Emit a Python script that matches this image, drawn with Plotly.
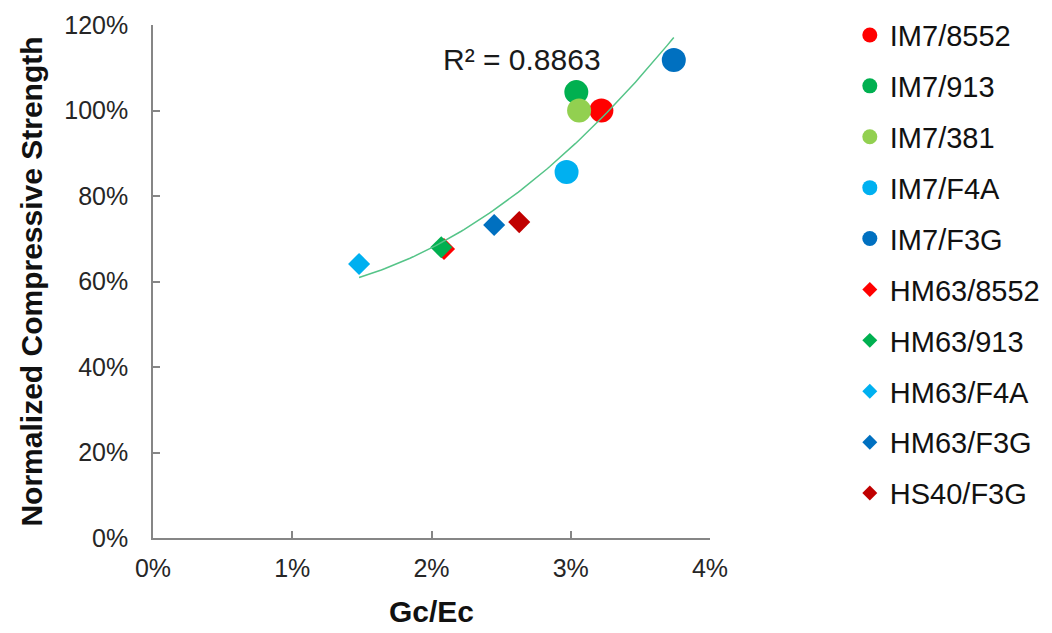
import numpy as np
import plotly.graph_objects as go

# Material systems (legend order) and their measured values
materials = ["IM7/8552", "IM7/913", "IM7/381", "IM7/F4A", "IM7/F3G",
             "HM63/8552", "HM63/913", "HM63/F4A", "HM63/F3G", "HS40/F3G"]
gc_ec = [0.0322, 0.0304, 0.0306, 0.0297, 0.0374,
         0.0209, 0.0207, 0.0148, 0.0245, 0.0263]
norm_strength = [1.00, 1.043, 1.00, 0.856, 1.118,
                 0.676, 0.680, 0.641, 0.732, 0.739]
colors = ["#FF0000", "#00B050", "#92D050", "#00B0F0", "#0070C0",
          "#FF0000", "#00B050", "#00B0F0", "#0070C0", "#C00000"]
symbols = ["circle"] * 5 + ["diamond"] * 5
r_squared_label = "R² = 0.8863"

x_ticks = [0, 0.01, 0.02, 0.03, 0.04]
y_ticks = [0, 0.2, 0.4, 0.6, 0.8, 1.0, 1.2]

FONT = "Liberation Sans, Arial, sans-serif"
AXIS_GRAY = "#868686"

fig = go.Figure()
# Data markers
for name, x, y, c, s in zip(materials, gc_ec, norm_strength, colors, symbols):
    fig.add_trace(go.Scatter(
        x=[x], y=[y], mode="markers", name=name, legendgroup=name,
        showlegend=False,
        marker=dict(symbol=s, color=c, size=24 if s == "circle" else 17,
                    line=dict(width=0)),
    ))

# Second-order polynomial trendline through all points
coef = np.polyfit(gc_ec, norm_strength, 2)
xs = np.linspace(min(gc_ec), max(gc_ec), 100)
fig.add_trace(go.Scatter(
    x=xs, y=np.polyval(coef, xs), mode="lines", showlegend=False,
    line=dict(color="#55C488", width=1.5), hoverinfo="skip",
))

# Legend entries with smaller symbols
for name, c, s in zip(materials, colors, symbols):
    fig.add_trace(go.Scatter(
        x=[None], y=[None], mode="markers", name=name, legendgroup=name,
        marker=dict(symbol=s, color=c, size=15 if s == "circle" else 11.5,
                    line=dict(width=0)),
    ))

fig.add_annotation(x=0.0265, y=1.12, xref="x", yref="y", text=r_squared_label,
                   showarrow=False, font=dict(family=FONT, size=30, color="#1a1a1a"))

fig.update_xaxes(
    range=[0, 0.04], tickvals=x_ticks, tickformat=".0%",
    showline=True, linecolor=AXIS_GRAY, linewidth=1.5, mirror=False,
    ticks="inside", ticklen=7, tickcolor=AXIS_GRAY, tickwidth=1.5,
    showgrid=False, zeroline=False,
    tickfont=dict(family=FONT, size=25, color="#262626"),
    ticklabelstandoff=7,
    title=dict(text="<b>Gc/Ec</b>", font=dict(family=FONT, size=30, color="#111"), standoff=20),
)
fig.update_yaxes(
    range=[0, 1.2], tickvals=y_ticks, tickformat=".0%",
    showline=True, linecolor=AXIS_GRAY, linewidth=1.5,
    ticks="inside", ticklen=7, tickcolor=AXIS_GRAY, tickwidth=1.5,
    showgrid=False, zeroline=False,
    tickfont=dict(family=FONT, size=25, color="#262626"),
    ticklabelstandoff=18,
    title=dict(text="<b>Normalized Compressive Strength</b>",
               font=dict(family=FONT, size=30, color="#111"), standoff=13),
)

fig.update_layout(
    width=1052, height=633,
    margin=dict(l=153, r=342, t=25, b=95, autoexpand=False),
    plot_bgcolor="white", paper_bgcolor="white",
    showlegend=True,
    legend=dict(x=1.251, xanchor="left", y=1.03, yanchor="top",
                font=dict(family=FONT, size=29, color="#111"),
                itemsizing="trace", tracegroupgap=10.2, traceorder="grouped",
                maxheight=620),
)

fig.write_html("out.html")
